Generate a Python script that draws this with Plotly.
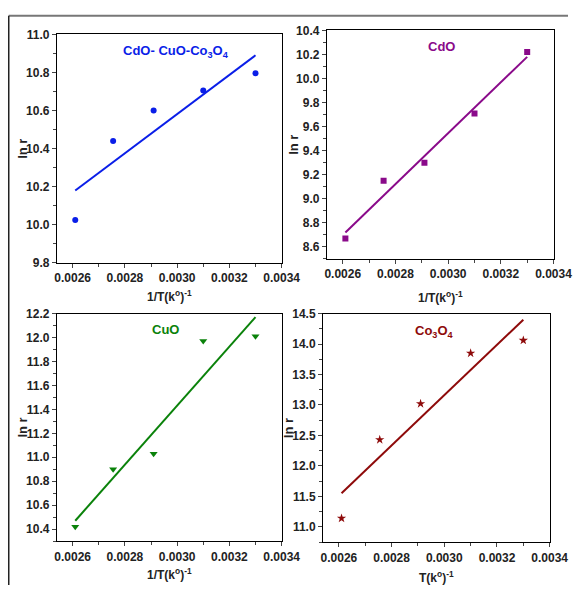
import plotly.graph_objects as go

W, H = 587, 592

# ---- data ----
inv_T = [0.00261, 0.002755, 0.00291, 0.0031, 0.0033]

ln_r_mix = [10.025, 10.44, 10.60, 10.705, 10.795]
ln_r_cdo = [8.67, 9.15, 9.30, 9.71, 10.22]
ln_r_cuo = [10.42, 10.90, 11.03, 11.97, 12.01]
ln_r_co = [11.14, 12.43, 13.02, 13.85, 14.06]

fit_x = [0.00261, 0.0033]
fit_mix = [10.18, 10.89]
fit_cdo = [8.72, 10.18]
fit_cuo = [10.47, 12.17]
fit_co = [11.55, 14.40]

labels = ["CdO- CuO-Co<sub>3</sub>O<sub>4</sub>", "CdO", "CuO", "Co<sub>3</sub>O<sub>4</sub>"]
colors = ["#0a1ee8", "#8a0a8a", "#0a820a", "#8e0a0a"]
symbols = ["circle", "square", "triangle-down", "star"]
x_titles = ["1/T(k<sup>o</sup>)<sup>-1</sup>", "1/T(k<sup>o</sup>)<sup>-1</sup>",
            "1/T(k<sup>o</sup>)<sup>-1</sup>", "T(k<sup>o</sup>)<sup>-1</sup>"]
y_title = "ln r"
x_ticks = [0.0026, 0.0028, 0.0030, 0.0032, 0.0034]

series = [ln_r_mix, ln_r_cdo, ln_r_cuo, ln_r_co]
fits = [fit_mix, fit_cdo, fit_cuo, fit_co]

# ---- layout geometry (pixels) ----
boxes = [(57, 290, 28, 262), (337, 572, 24, 258), (57, 290, 314, 547), (333, 568, 314, 548)]
y_ranges = [(9.8, 11.0), (8.5, 10.4), (10.3, 12.2), (10.75, 14.5)]
y_tick0 = [9.8, 8.6, 10.4, 11.0]
y_dtick = [0.2, 0.2, 0.2, 0.5]
label_pos = [(180, 46), (456, 40), (170, 330), (449, 332)]
xtitle_y = [296, 297, 581, 584]
ytitle_x = [21, 302, 21, 297]

fig = go.Figure()
font_bold = "Liberation Sans"

for i in range(4):
    xa = "x" if i == 0 else f"x{i+1}"
    ya = "y" if i == 0 else f"y{i+1}"
    fig.add_trace(go.Scatter(x=inv_T, y=series[i], mode="markers", xaxis=xa, yaxis=ya,
                             marker=dict(symbol=symbols[i], size=6 if i < 2 else 7,
                                         color=colors[i]),
                             showlegend=False))
    fig.add_trace(go.Scatter(x=fit_x, y=fits[i], mode="lines", xaxis=xa, yaxis=ya,
                             line=dict(color=colors[i], width=2), showlegend=False))
    x0, x1, y0, y1 = boxes[i]
    axcommon = dict(showline=True, linecolor="black", linewidth=1.2, mirror=True,
                    ticks="outside", ticklen=4, tickwidth=1, tickcolor="#444",
                    showgrid=False, zeroline=False)
    xkey = "xaxis" if i == 0 else f"xaxis{i+1}"
    ykey = "yaxis" if i == 0 else f"yaxis{i+1}"
    fig.layout[xkey] = dict(domain=[x0 / W, x1 / W], anchor=ya, range=[0.00254, 0.0034],
                            tickvals=x_ticks, tickformat=".4f",
                            tickfont=dict(family=font_bold, size=12, color="#222", weight="bold"),
                            minor=dict(ticks="outside", ticklen=3, dtick=0.0001, tick0=0.0026,
                                       tickcolor="#444"),
                            **axcommon)
    fig.layout[ykey] = dict(domain=[1 - y1 / H, 1 - y0 / H], anchor=xa, range=list(y_ranges[i]),
                            tick0=y_tick0[i], dtick=y_dtick[i], tickformat=".1f",
                            tickfont=dict(family=font_bold, size=12, color="#222", weight="bold"),
                            minor=dict(ticks="outside", ticklen=3, dtick=y_dtick[i] / 2,
                                       tickcolor="#444"),
                            **axcommon)
    lx, ly = label_pos[i]
    fig.add_annotation(x=lx / W, y=1 - ly / H, xref="paper", yref="paper", text=labels[i],
                       xanchor="center", yanchor="middle",
                       showarrow=False, font=dict(family=font_bold, size=13, color=colors[i],
                                                  weight="bold"))
    fig.add_annotation(x=(x0 + x1) / 2 / W, y=1 - xtitle_y[i] / H, xref="paper", yref="paper",
                       text=x_titles[i], showarrow=False, xanchor="center", yanchor="middle",
                       font=dict(family=font_bold, size=12, color="#222", weight="bold"))
    fig.add_annotation(x=ytitle_x[i] / W, y=1 - (y0 + y1) / 2 / H, xref="paper", yref="paper",
                       text=y_title, textangle=-90, showarrow=False,
                       xanchor="center", yanchor="middle",
                       font=dict(family=font_bold, size=13, color="#222", weight="bold"))

# outer frame fragments
fig.add_shape(type="line", xref="paper", yref="paper", x0=7 / W, x1=1, y0=1 - 9 / H, y1=1 - 9 / H,
              line=dict(color="#777", width=2))
fig.add_shape(type="line", xref="paper", yref="paper", x0=7 / W, x1=7 / W, y0=0, y1=1 - 9 / H,
              line=dict(color="#222", width=1.5))

fig.update_layout(width=W, height=H, margin=dict(l=0, r=0, t=0, b=0),
                  paper_bgcolor="white", plot_bgcolor="white")

fig.write_html("out.html",
               post_script="document.body.style.margin='0px';document.body.style.overflow='hidden';",
               config={"displayModeBar": False})
